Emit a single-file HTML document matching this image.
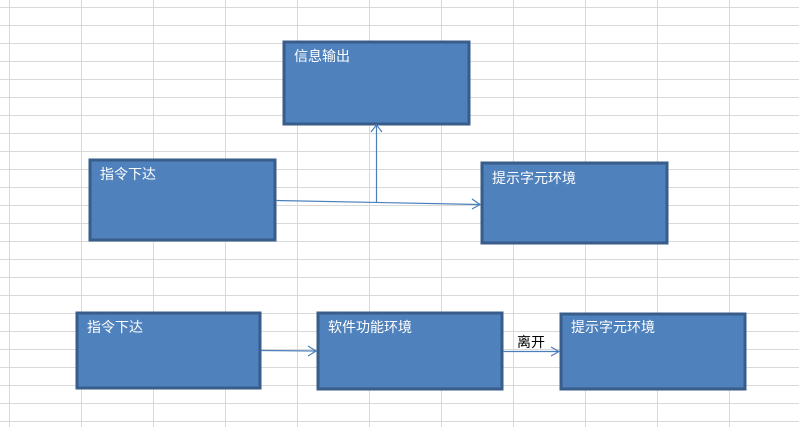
<!DOCTYPE html>
<html><head><meta charset="utf-8"><style>
html,body{margin:0;padding:0;background:#fff;width:799px;height:427px;overflow:hidden}
svg{display:block}
text{font-family:"Liberation Sans","Noto Sans CJK SC","WenQuanYi Zen Hei",sans-serif;font-size:14px}
</style></head><body>
<svg width="799" height="427" viewBox="0 0 799 427" xmlns="http://www.w3.org/2000/svg">
<defs>
<pattern id="g" width="72" height="18" patternUnits="userSpaceOnUse" x="9" y="7">
<rect width="72" height="18" fill="#fff"/>
<path d="M0 0.5H72M0.5 0V18" stroke="#d9d9d9" stroke-width="1" fill="none"/>
</pattern>
</defs>
<rect width="799" height="427" fill="url(#g)"/>
<g fill="#4f81bd" stroke="#385d8a" stroke-width="3">
<rect x="284" y="42" width="185" height="82"/>
<rect x="90" y="160" width="185" height="80"/>
<rect x="482" y="163" width="185" height="80"/>
<rect x="77" y="313" width="183" height="75"/>
<rect x="318" y="313" width="184" height="76"/>
<rect x="561" y="314" width="184" height="75"/>
</g>
<g fill="#fff">
<text x="294" y="61">信息输出</text>
<text x="100" y="179">指令下达</text>
<text x="492" y="183">提示字元环境</text>
<text x="87" y="332">指令下达</text>
<text x="328" y="332">软件功能环境</text>
<text x="571" y="332">提示字元环境</text>
</g>
<text x="517" y="347" fill="#000">离开</text>
<g stroke="#4a7ebb" stroke-width="1.2" fill="none">
<line x1="276" y1="200.5" x2="480" y2="204.5"/>
<line x1="376.5" y1="203" x2="376.5" y2="125"/>
<polyline points="371,132 376.5,125 382,132"/>
<polyline points="472,199 480,204.5 472,209"/>
<line x1="261" y1="350.5" x2="316" y2="351"/>
<polyline points="308,346 316,351 308,356"/>
<line x1="503" y1="351.5" x2="559" y2="351.5"/>
<polyline points="551,347 559,351.5 551,356"/>
</g>
</svg>
</body></html>
